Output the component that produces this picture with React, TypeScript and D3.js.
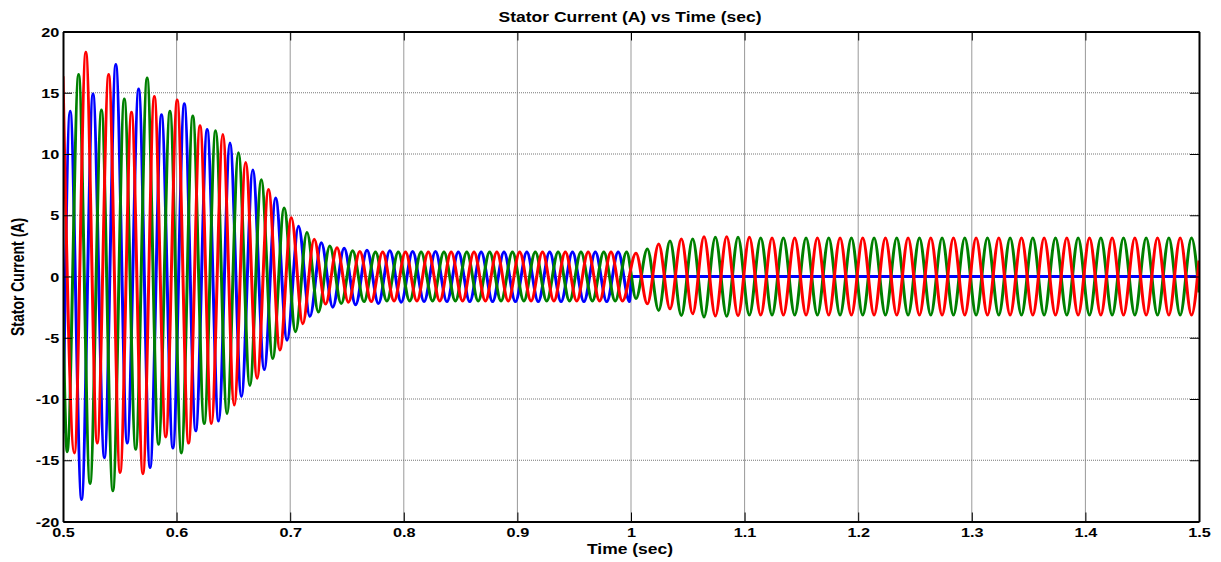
// App.tsx
import React, { useEffect, useRef } from "react";
import * as d3 from "d3";

// axis ticks
const xTicks = [0.5, 0.6, 0.7, 0.8, 0.9, 1.0, 1.1, 1.2, 1.3, 1.4, 1.5];
const yTicks = [-20, -15, -10, -5, 0, 5, 10, 15, 20];

// half cycle spacing of the extrema (before / after the phase opens at 1.0 s)
const halfCyclePre = 0.01005;
const halfCyclePost = 0.00998;

// phase A (blue): peaks/troughs
const blueStart: [number, number] = [0.5, -12.8];
const blueFirstT = 0.5063;
const bluePre = [
  13.5, -18.2, 14.9, -14.8, 17.3, -13.6, 15.3, -15.6, 13.2, -14.0,
  14.1, -12.6, 12.0, -11.8, 10.9, -9.8, 8.7, -7.6, 6.4, -5.2,
  4.1, -3.25, 2.75, -2.5, 2.3, -2.3, 2.15, -2.2, 2.1, -2.1,
  2.05, -2.05, 2.05, -2.05, 2.0, -2.05, 2.0, -2.05, 2.0, -2.05,
  2.0, -2.05, 2.0, -2.05, 2.0, -2.05, 2.0, -2.05, 2.0, -2.05,
];
const blueTail: [number, number][] = [[1.0005, 0], [1.5, 0]];

// phase B (green)
const greenStart: [number, number] = [0.5, -3.0];
const greenFirstT = 0.5037;
const greenPre = [
  -14.3, 16.5, -16.9, 13.6, -17.5, 14.5, -14.1, 16.2, -13.7, 13.5,
  -14.4, 13.1, -12.0, 11.9, -11.2, 10.1, -8.9, 7.9, -6.7, 5.6,
  -4.5, 3.6, -2.9, 2.5, -2.2, 2.1, -2.05, 2.0, -2.0, 2.0,
  -2.0, 2.0, -2.0, 2.0, -2.0, 2.0, -2.0, 2.0, -2.0, 2.0,
  -2.0, 2.0, -2.0, 2.0, -2.0, 2.0, -2.0, 2.0, -2.0, 2.0,
];
const greenPostT = 1.0044;
const greenPost = [
  -1.8, 2.25, -2.77, 2.9, -3.18, 3.07, -3.3, 3.2, -3.25, 3.2,
  -3.15, 3.15, -3.15, 3.15, -3.15, 3.15, -3.15, 3.15, -3.15, 3.15,
  -3.15, 3.15, -3.15, 3.15, -3.15, 3.15, -3.15, 3.15, -3.15, 3.15,
  -3.15, 3.15, -3.15, 3.15, -3.15, 3.15, -3.15, 3.15, -3.15, 3.15,
  -3.15, 3.15, -3.15, 3.15, -3.15, 3.15, -3.15, 3.15, -3.15, 3.15,
];
const greenEnd: [number, number] = [1.5, -1.3];

// phase C (red)
const redFirstT = 0.5;
const redPre = [
  16.35, -14.4, 18.3, -13.6, 16.5, -16.0, 13.4, -16.1, 14.7, -13.1,
  14.4, -13.6, 12.3, -12.0, 11.6, -10.5, 9.3, -8.3, 7.1, -6.0,
  4.8, -3.85, 3.05, -2.25, 2.35, -2.1, 2.05, -2.05, 2.0, -2.0,
  2.0, -2.0, 2.0, -2.0, 2.0, -2.0, 2.0, -2.0, 2.0, -2.0,
  2.0, -2.0, 2.0, -2.0, 2.0, -2.0, 2.0, -2.0, 2.0, -2.0,
];
const redPostT = 1.0044;
const redPost = [
  1.9, -2.23, 2.66, -2.64, 3.07, -3.04, 3.25, -3.23, 3.25, -3.2,
  3.2, -3.15, 3.15, -3.15, 3.15, -3.15, 3.15, -3.15, 3.15, -3.15,
  3.15, -3.15, 3.15, -3.15, 3.15, -3.15, 3.15, -3.15, 3.15, -3.15,
  3.15, -3.15, 3.15, -3.15, 3.15, -3.15, 3.15, -3.15, 3.15, -3.15,
  3.15, -3.15, 3.15, -3.15, 3.15, -3.15, 3.15, -3.15, 3.15, -3.15,
];
const redEnd: [number, number] = [1.5, 1.3];

const extrema = (t0: number, step: number, vals: number[]): [number, number][] =>
  vals.map((v, i) => [t0 + i * step, v]);

const FONT = "'Liberation Sans', Arial, Helvetica, sans-serif";
const STRETCH = 1.25;

const App = () => {
  const ref = useRef<SVGSVGElement>(null);

  useEffect(() => {
    document.body.style.margin = "0";
    const svg = d3.select(ref.current);
    svg.selectAll("*").remove();

    const width = 1221;
    const left = 63, right = 1199, top = 31.5, bottom = 521.5;

    const x = d3.scaleLinear().domain([0.5, 1.5]).range([left, right]);
    const y = d3.scaleLinear().domain([-20, 20]).range([bottom, top]);

    svg.append("rect").attr("width", width).attr("height", 562).attr("fill", "#fff");

    // grid
    const grid = svg.append("g");
    grid
      .selectAll("line.v")
      .data(xTicks.slice(1, -1))
      .enter()
      .append("line")
      .attr("x1", (d) => x(d))
      .attr("x2", (d) => x(d))
      .attr("y1", top)
      .attr("y2", bottom)
      .attr("stroke", "#999")
      .attr("stroke-width", 1);
    grid
      .selectAll("line.h")
      .data(yTicks.slice(1, -1))
      .enter()
      .append("line")
      .attr("x1", left)
      .attr("x2", right)
      .attr("y1", (d) => y(d))
      .attr("y2", (d) => y(d))
      .attr("stroke", "#777")
      .attr("stroke-dasharray", "1 1")
      .attr("stroke-width", 1);

    // currents
    svg
      .append("clipPath")
      .attr("id", "plot-clip")
      .append("rect")
      .attr("x", left)
      .attr("y", top)
      .attr("width", right - left)
      .attr("height", bottom - top);

    const blue = [blueStart, ...extrema(blueFirstT, halfCyclePre, bluePre), ...blueTail];
    const green = [
      greenStart,
      ...extrema(greenFirstT, halfCyclePre, greenPre),
      ...extrema(greenPostT, halfCyclePost, greenPost),
      greenEnd,
    ];
    const red = [
      ...extrema(redFirstT, halfCyclePre, redPre),
      ...extrema(redPostT, halfCyclePost, redPost),
      redEnd,
    ];

    const line = d3
      .line<[number, number]>()
      .x((d) => x(d[0]))
      .y((d) => y(d[1]))
      .curve(d3.curveMonotoneX);

    const lines = svg.append("g").attr("clip-path", "url(#plot-clip)");
    [
      { data: blue, color: "#0000ff" },
      { data: green, color: "#008000" },
      { data: red, color: "#ff0000" },
    ].forEach((s) => {
      lines
        .append("path")
        .attr("d", line(s.data))
        .attr("fill", "none")
        .attr("stroke", s.color)
        .attr("stroke-width", 3)
        .attr("stroke-linejoin", "round");
    });

    const fmt = (d: d3.NumberValue) => String(+d);

    // axes, ticks pointing inward
    const styleAxis = (g: d3.Selection<SVGGElement, unknown, null, undefined>) => {
      g.select(".domain").attr("stroke", "#000").attr("stroke-width", 2);
      g.selectAll(".tick line").attr("stroke", "#000").attr("stroke-width", 1);
      g.selectAll("text")
        .attr("font-family", FONT)
        .attr("font-size", 13)
        .attr("font-weight", "bold")
        .attr("fill", "#000");
    };

    const xb = svg
      .append("g")
      .attr("transform", `translate(0,${bottom})`)
      .call(d3.axisBottom(x).tickValues(xTicks).tickSize(-9).tickSizeOuter(0).tickPadding(6.5).tickFormat(fmt));
    styleAxis(xb);
    xb.selectAll("text").attr("transform", `scale(${STRETCH},1)`);

    const xt = svg
      .append("g")
      .attr("transform", `translate(0,${top})`)
      .call(d3.axisTop(x).tickValues(xTicks).tickSize(-9).tickSizeOuter(0).tickFormat(() => ""));
    styleAxis(xt);

    const yl = svg
      .append("g")
      .attr("transform", `translate(${left},0)`)
      .call(d3.axisLeft(y).tickValues(yTicks).tickSize(-9).tickSizeOuter(0).tickPadding(3).tickFormat(fmt));
    styleAxis(yl);
    yl.selectAll("text").attr("transform", `scale(${STRETCH},1)`).attr("dy", "0.35em");

    const yr = svg
      .append("g")
      .attr("transform", `translate(${right},0)`)
      .call(d3.axisRight(y).tickValues(yTicks).tickSize(-9).tickSizeOuter(0).tickFormat(() => ""));
    styleAxis(yr);

    // title and axis labels
    svg
      .append("text")
      .attr("transform", `translate(630,21.5) scale(${STRETCH},1)`)
      .attr("text-anchor", "middle")
      .attr("font-family", FONT)
      .attr("font-size", 14)
      .attr("font-weight", "bold")
      .text("Stator Current (A) vs Time (sec)");

    svg
      .append("text")
      .attr("transform", `translate(630,554) scale(${STRETCH},1)`)
      .attr("text-anchor", "middle")
      .attr("font-family", FONT)
      .attr("font-size", 14)
      .attr("font-weight", "bold")
      .text("Time (sec)");

    svg
      .append("text")
      .attr("transform", `translate(24,277) scale(${STRETCH},1) rotate(-90)`)
      .attr("text-anchor", "middle")
      .attr("font-family", FONT)
      .attr("font-size", 14)
      .attr("font-weight", "bold")
      .text("Stator Current (A)");
  }, []);

  return <svg ref={ref} width={1221} height={562} style={{ display: "block" }}></svg>;
};

export default App;
